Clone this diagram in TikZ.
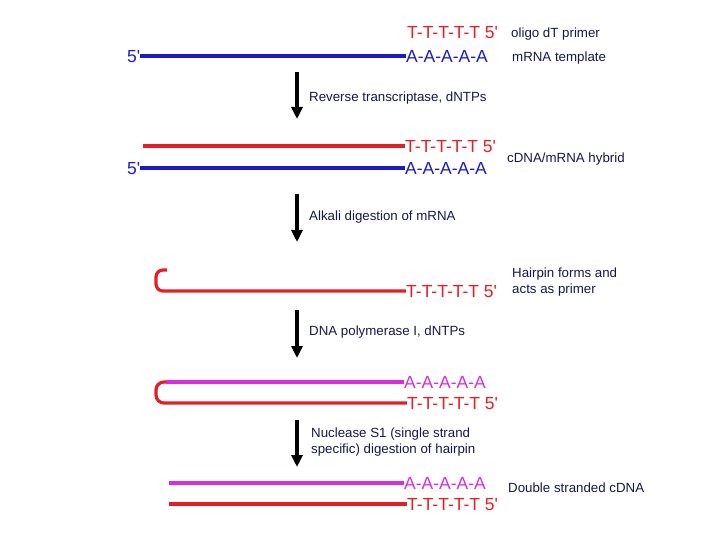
\documentclass[tikz,border=0pt]{standalone}
\usepackage{fontspec}
\setmainfont{Liberation Sans}
\usetikzlibrary{arrows.meta}
\definecolor{dred}{RGB}{228,30,36}
\definecolor{dblue}{RGB}{26,26,200}
\definecolor{dmag}{RGB}{214,44,226}
\definecolor{navy}{RGB}{22,22,80}
\newcommand{\fp}{5\textquotesingle}
\tikzset{
  seq/.style={anchor=west, inner sep=0pt, font=\fontsize{17.5}{18}\selectfont, text height=12.5pt, text depth=0pt},
  lab/.style={anchor=west, inner sep=0pt, font=\fontsize{13.3}{16}\selectfont, text=navy, text height=9.5pt, text depth=0pt},
  lab2/.style={anchor=north west, inner sep=0pt, font=\fontsize{13.3}{16}\selectfont, text=navy, align=left},
  stepar/.style={line width=4pt, -{Triangle[width=11pt,length=12pt]}},
  strand/.style={line width=4pt},
  thin strand/.style={line width=3.2pt}
}
\begin{document}
\begin{tikzpicture}[x=1pt,y=-1pt]
\useasboundingbox (0,0) rectangle (720,540);
% Row 1
\node[seq,text=dred] (t1) at (407,32) {T-T-T-T-T \fp};
\node[lab] (l1) at (511,33) {oligo dT primer};
\node[seq,text=dblue] (p1) at (127,56) {\fp};
\node[seq,text=dblue] (a1) at (406,56) {A-A-A-A-A};
\node[lab] (m1) at (512,57) {mRNA template};
\draw[strand,dblue] (p1.east) -- (a1.west);
% Arrow 1
\coordinate (s1) at (297,72);
\coordinate (e1) at (297,119);
\draw[stepar] (s1) -- (e1);
\node[lab] (r1) at (309,97) {Reverse transcriptase, dNTPs};
% Row 2
\coordinate (c2) at (143,146);
\node[seq,text=dred] (t2) at (405,146) {T-T-T-T-T \fp};
\node[seq,text=dblue] (p2) at (127,168) {\fp};
\node[seq,text=dblue] (a2) at (405,168) {A-A-A-A-A};
\node[lab] (h2) at (507,158) {cDNA/mRNA hybrid};
\draw[strand,dred] (c2) -- (t2.west);
\draw[thin strand,dblue] (p2.east) -- (a2.west);
% Arrow 2
\coordinate (s2) at (297,194);
\coordinate (e2) at (297,242);
\draw[stepar] (s2) -- (e2);
\node[lab] (r2) at (309,216) {Alkali digestion of mRNA};
% Row 3
\node[seq,text=dred] (t3) at (406,291) {T-T-T-T-T \fp};
\coordinate (c3) at (167,270);
\draw[thin strand,dred,rounded corners=7pt] (c3) -- (156,270) -- (156,291) -- (t3.west);
\node[lab2] (h3) at (512,268) {Hairpin forms and\\acts as primer};
% Arrow 3
\coordinate (s3) at (297,310);
\coordinate (e3) at (297,358);
\draw[stepar] (s3) -- (e3);
\node[lab] (r3) at (309,331) {DNA polymerase I, dNTPs};
% Row 4
\node[seq,text=dmag] (a4) at (404,382) {A-A-A-A-A};
\node[seq,text=dred] (t4) at (407,403) {T-T-T-T-T \fp};
\coordinate (c4) at (166,382);
\draw[thin strand,dmag] (c4) -- (a4.west);
\draw[thin strand,dred,rounded corners=8pt] (c4) -- (156,382) -- (156,403) -- (t4.west);
% Arrow 4
\coordinate (s4) at (297,420);
\coordinate (e4) at (297,467);
\draw[stepar] (s4) -- (e4);
\node[lab2] (r4) at (311,428) {Nuclease S1 (single strand\\specific) digestion of hairpin};
% Row 5
\coordinate (c5a) at (169,483);
\coordinate (c5b) at (169,504);
\node[seq,text=dmag] (a5) at (404,483) {A-A-A-A-A};
\node[seq,text=dred] (t5) at (407,504) {T-T-T-T-T \fp};
\node[lab] (d5) at (508,488) {Double stranded cDNA};
\draw[thin strand,dmag] (c5a) -- (a5.west);
\draw[thin strand,dred] (c5b) -- (t5.west);
\end{tikzpicture}
\end{document}
